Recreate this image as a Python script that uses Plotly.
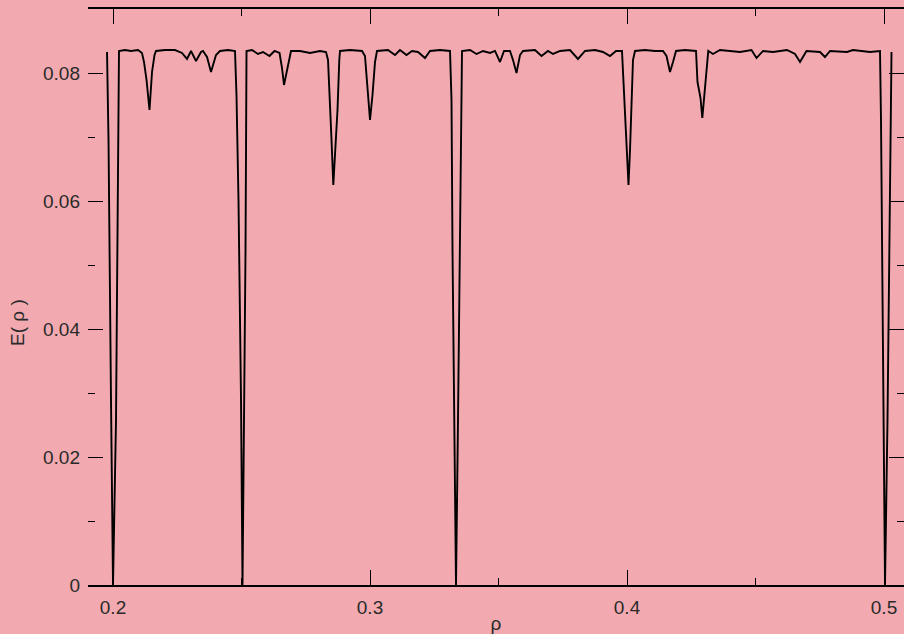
import plotly.graph_objects as go

# rho values (x) and E(rho) values (y)
rho = [
    0.19767, 0.19825, 0.19922, 0.20000, 0.20117, 0.20195, 0.20233,
    0.20467, 0.20700, 0.20973, 0.21128, 0.21206, 0.21304, 0.21420, 0.21518,
    0.21615, 0.21673, 0.22023, 0.22412, 0.22685, 0.22879, 0.23035, 0.23230,
    0.23424, 0.23502, 0.23658, 0.23813, 0.24008, 0.24163, 0.24475, 0.24747,
    0.24805, 0.24883, 0.24981, 0.25039, 0.25097, 0.25156, 0.25195,
    0.25409, 0.25642, 0.25837, 0.26089, 0.26284, 0.26479, 0.26576, 0.26654,
    0.26751, 0.26829, 0.26926, 0.27276, 0.27665, 0.28054, 0.28288,
    0.28366, 0.28424, 0.28502, 0.28572, 0.28658, 0.28735, 0.28805, 0.28833,
    0.29222, 0.29689, 0.29805, 0.29903, 0.30000, 0.30097, 0.30195, 0.30272,
    0.30700, 0.30973, 0.31167, 0.31420, 0.31634, 0.31868, 0.32140, 0.32335,
    0.32724, 0.33113, 0.33171, 0.33210, 0.33288, 0.33346, 0.33424, 0.33521,
    0.33580, 0.33891, 0.34144, 0.34397, 0.34669, 0.34864, 0.35058, 0.35214,
    0.35447, 0.35564, 0.35700, 0.35837, 0.35953, 0.36420, 0.36673, 0.36926,
    0.37121, 0.37393, 0.37782, 0.38093, 0.38366, 0.38755, 0.39066, 0.39339,
    0.39572, 0.39805, 0.39864, 0.39922, 0.40000, 0.40058, 0.40117, 0.40175,
    0.40233, 0.40311, 0.40700, 0.41089, 0.41401, 0.41537, 0.41673, 0.41790,
    0.41907, 0.42257, 0.42685, 0.42743, 0.42860, 0.42930, 0.43008, 0.43074,
    0.43163, 0.43346, 0.43619, 0.44397, 0.44844, 0.45039, 0.45292, 0.45681,
    0.46226, 0.46537, 0.46732, 0.46984, 0.47510, 0.47704, 0.47899, 0.48560,
    0.48794, 0.49455, 0.49844, 0.49883, 0.49942, 0.50039, 0.50136, 0.50214,
    0.50292,
]

energy = [
    0.08328, 0.06953, 0.02891, 0.0, 0.02578, 0.06016, 0.08344,
    0.08359, 0.08344, 0.08359, 0.08313, 0.08172, 0.07891, 0.07422, 0.08016,
    0.08281, 0.08344, 0.08359, 0.08359, 0.08313, 0.08219, 0.08344, 0.08188,
    0.08328, 0.08344, 0.08250, 0.08016, 0.08281, 0.08344, 0.08359, 0.08344,
    0.07656, 0.06016, 0.02891, 0.0, 0.02578, 0.05234, 0.08344,
    0.08359, 0.08297, 0.08328, 0.08266, 0.08344, 0.08313, 0.08078, 0.07813,
    0.08016, 0.08203, 0.08344, 0.08344, 0.08313, 0.08344, 0.08328,
    0.08203, 0.07547, 0.06953, 0.06250, 0.06797, 0.07422, 0.08203, 0.08344,
    0.08359, 0.08344, 0.08266, 0.07813, 0.07266, 0.07656, 0.08172, 0.08344,
    0.08359, 0.08281, 0.08359, 0.08281, 0.08344, 0.08328, 0.08234, 0.08344,
    0.08359, 0.08344, 0.07578, 0.05234, 0.02578, 0.0, 0.02578, 0.06016,
    0.08344, 0.08359, 0.08297, 0.08344, 0.08313, 0.08344, 0.08172, 0.08344,
    0.08344, 0.08203, 0.08000, 0.08281, 0.08344, 0.08359, 0.08266, 0.08344,
    0.08297, 0.08344, 0.08359, 0.08219, 0.08344, 0.08359, 0.08328, 0.08266,
    0.08344, 0.08344, 0.07891, 0.07297, 0.06797, 0.06250, 0.06797, 0.07578,
    0.08203, 0.08344, 0.08359, 0.08344, 0.08344, 0.08266, 0.08016, 0.08172,
    0.08344, 0.08359, 0.08344, 0.07859, 0.07609, 0.07297, 0.07656, 0.08016,
    0.08344, 0.08297, 0.08359, 0.08328, 0.08359, 0.08234, 0.08344, 0.08328,
    0.08359, 0.08297, 0.08172, 0.08344, 0.08328, 0.08250, 0.08344, 0.08328,
    0.08359, 0.08328, 0.08344, 0.07266, 0.04453, 0.0, 0.02578, 0.06016,
    0.08328,
]

x_tick_vals = [0.2, 0.3, 0.4, 0.5]
x_tick_text = ["0.2", "0.3", "0.4", "0.5"]
y_tick_vals = [0.0, 0.02, 0.04, 0.06, 0.08]
y_tick_text = ["0", "0.02", "0.04", "0.06", "0.08"]

BG = "#F2AAB0"
FONT = dict(family="Liberation Sans, Arial, sans-serif", size=19, color="#2a2a2a")

fig = go.Figure()
fig.add_trace(go.Scatter(
    x=rho, y=energy, mode="lines",
    line=dict(color="black", width=1.9),
    showlegend=False, hoverinfo="skip",
))

fig.update_layout(
    width=904, height=634,
    margin=dict(l=88, r=0, t=9, b=49),
    paper_bgcolor=BG, plot_bgcolor=BG,
    font=FONT,
    showlegend=False,
)

fig.update_xaxes(
    range=[0.19027, 0.50778],
    showgrid=False, zeroline=False,
    showline=True, linecolor="black", linewidth=1.5, mirror="ticks",
    ticks="inside", ticklen=15, tickwidth=1.3, tickcolor="black",
    tickvals=x_tick_vals, ticktext=x_tick_text,
    ticklabelstandoff=4,
    minor=dict(ticks="inside", ticklen=7, tickwidth=1.3, tickcolor="black",
               dtick=0.05, tick0=0.2, showgrid=False),
    title=dict(text="ρ", standoff=3, font=FONT),
    automargin=False,
)

fig.update_yaxes(
    range=[0, 0.09],
    showgrid=False, zeroline=False,
    showline=False, mirror="ticks",
    ticks="inside", ticklen=15, tickwidth=1.3, tickcolor="black",
    tickvals=y_tick_vals, ticktext=y_tick_text,
    ticklabelstandoff=7,
    minor=dict(ticks="inside", ticklen=7, tickwidth=1.3, tickcolor="black",
               dtick=0.01, tick0=0, showgrid=False),
    automargin=False,
)

# y-axis title placed as rotated text, slightly below the plot's middle as in the reference
fig.add_annotation(
    text="E( ρ )", textangle=-90, showarrow=False,
    xref="paper", yref="paper", x=-0.0858, y=0.4566,
    xanchor="center", yanchor="middle", font=FONT,
)

fig.write_html("out.html")
